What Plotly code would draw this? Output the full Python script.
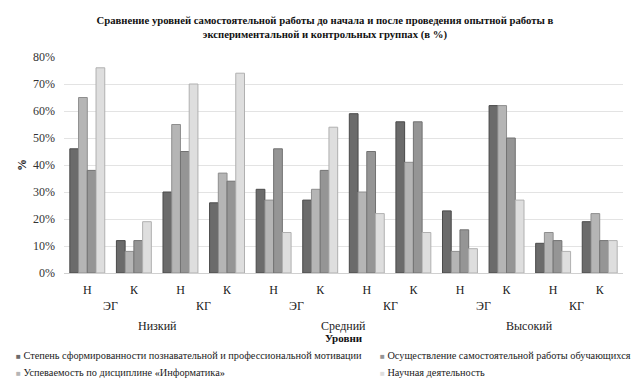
import plotly.graph_objects as go

# Hierarchy of the x axis: level -> group -> stage
levels = ["Низкий", "Средний", "Высокий"]
groups = ["ЭГ", "КГ"]
stages = ["Н", "К"]

# Series (in drawing order within each cluster)
series_names = [
    "Степень сформированности познавательной и профессиональной мотивации",
    "Успеваемость по дисциплине «Информатика»",
    "Осуществление самостоятельной работы обучающихся",
    "Научная деятельность",
]
motivation = [46, 12, 30, 26, 31, 27, 59, 56, 23, 62, 11, 19]
performance = [65, 8, 55, 37, 27, 31, 30, 41, 8, 62, 15, 22]
independent = [38, 12, 45, 34, 46, 38, 45, 56, 16, 50, 12, 12]
research = [76, 19, 70, 74, 15, 54, 22, 15, 9, 27, 8, 12]
series_values = [motivation, performance, independent, research]

colors = ["#6b6b6b", "#b5b5b5", "#959595", "#dedede"]
edge_colors = ["#4a4a4a", "#8e8e8e", "#727272", "#b0b0b0"]
# key slots (column, row): motivation, independent work / performance, research
key_slots = [(0, 0), (0, 1), (1, 0), (1, 1)]

categories = [f"{l}|{g}|{s}" for l in levels for g in groups for s in stages]
stage_text = [c.split("|")[2] for c in categories]

FONT = "Liberation Serif, Times New Roman, serif"

# plot-area geometry in pixels, used to place the key below the axis
W, H = 637, 379
M_L, M_R, M_T, M_B = 64, 14, 57, 106
plot_w = W - M_L - M_R
plot_h = H - M_T - M_B


def px_to_paper_x(px):
    return (px - M_L) / plot_w


def px_to_paper_y(py):
    return (H - M_B - py) / plot_h


fig = go.Figure()
for name, vals, col, edge in zip(series_names, series_values, colors, edge_colors):
    fig.add_trace(go.Bar(
        x=categories,
        y=[v / 100 for v in vals],
        name=name,
        marker=dict(color=col, line=dict(color=edge, width=1)),
        showlegend=False,
    ))

# Second-level (group) and third-level (level) labels under the stage ticks
annotations = []
n_per_group = len(stages)
n_per_level = len(groups) * len(stages)
for li, lvl in enumerate(levels):
    for gi, grp in enumerate(groups):
        start = li * n_per_level + gi * n_per_group
        annotations.append(dict(
            x=start + (n_per_group - 1) / 2, xref="x",
            y=-0.155, yref="paper", yanchor="middle",
            text=grp, showarrow=False,
            font=dict(family=FONT, size=12, color="#222"),
        ))
    start = li * n_per_level
    annotations.append(dict(
        x=start + (n_per_level - 1) / 2, xref="x",
        y=-0.245, yref="paper", yanchor="middle",
        text=lvl, showarrow=False,
        font=dict(family=FONT, size=12, color="#222"),
    ))

# Series key: two columns, two rows
key_cols_px = [14, 378]
key_rows_px = [355.5, 372]
for name, col, (ci, ri) in zip(series_names, colors, key_slots):
    annotations.append(dict(
        x=px_to_paper_x(key_cols_px[ci]), xref="paper", xanchor="left",
        y=px_to_paper_y(key_rows_px[ri]), yref="paper", yanchor="middle",
        text=f'<span style="color:{col};font-size:8px">■</span> {name}',
        showarrow=False, align="left",
        font=dict(family=FONT, size=10.3, color="#222"),
    ))

fig.update_layout(
    width=W, height=H,
    margin=dict(l=M_L, r=M_R, t=M_T, b=M_B, autoexpand=False),
    paper_bgcolor="white", plot_bgcolor="white",
    font=dict(family=FONT, size=12, color="#222"),
    barmode="group", bargap=0.25, bargroupgap=0,
    showlegend=False,
    title=dict(
        text="<b>Сравнение уровней самостоятельной работы до начала и после проведения опытной работы в<br>"
             "экспериментальной и контрольных группах (в %)</b>",
        x=0.51, xref="container", xanchor="center",
        y=1 - 24 / H, yref="container", yanchor="middle",
        font=dict(family=FONT, size=10.7, color="#111"),
    ),
    xaxis=dict(
        type="category",
        tickmode="array", tickvals=categories, ticktext=stage_text,
        showgrid=False, showline=True, linecolor="#d0d0d0",
        ticks="", ticklabelstandoff=6,
        tickfont=dict(family=FONT, size=12, color="#222"),
        title=dict(text="<b>Уровни</b>", standoff=37,
                   font=dict(family=FONT, size=11, color="#111")),
    ),
    yaxis=dict(
        range=[0, 0.8], dtick=0.1, tickformat=".0%",
        showgrid=True, gridcolor="#e3e3e3", gridwidth=1,
        zeroline=False, showline=False, ticks="", ticklabelstandoff=8,
        tickfont=dict(family=FONT, size=12, color="#333"),
        title=dict(text="<b>%</b>", standoff=3,
                   font=dict(family=FONT, size=12, color="#111")),
    ),
    annotations=annotations,
)

fig.write_html("out.html")
